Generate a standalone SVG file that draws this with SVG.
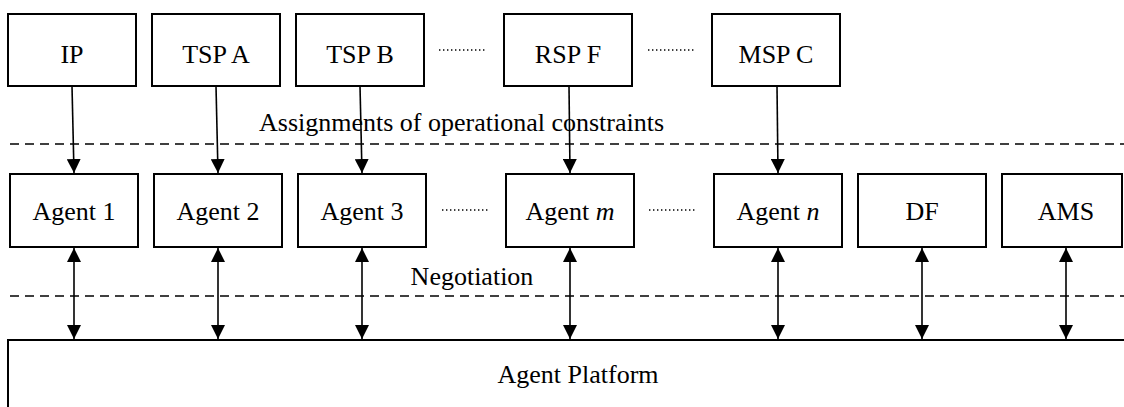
<svg xmlns="http://www.w3.org/2000/svg" width="1124" height="407" viewBox="0 0 1124 407">
<style>
.box{fill:#fff;stroke:#000;stroke-width:2}
.t{font-family:"Liberation Serif","Times New Roman",serif;font-size:26px;fill:#000;text-anchor:middle}
.tl{font-family:"Liberation Serif","Times New Roman",serif;font-size:26px;fill:#000}
.ln{stroke:#000;stroke-width:1.6;fill:none}
.dash{stroke:#000;stroke-width:1.5;stroke-dasharray:9 6;fill:none}
.dot{stroke:#000;stroke-width:1.6;stroke-dasharray:1.4 2.6;fill:none}
</style>
<defs>
<marker id="ah" viewBox="0 0 14 14" refX="14" refY="7" markerWidth="14" markerHeight="14" markerUnits="userSpaceOnUse" orient="auto-start-reverse">
<path d="M0,0 L14,7 L0,14 Z" fill="#000"/>
</marker>
</defs>
<rect width="1124" height="407" fill="#fff"/>

<g id="sep-lines">
<line class="dash" x1="10" y1="144" x2="1124" y2="144"/>
<line class="dash" x1="10" y1="296" x2="1124" y2="296"/>
<line class="dot" x1="439" y1="50" x2="486" y2="50"/>
<line class="dot" x1="648" y1="50" x2="694" y2="50"/>
<line class="dot" x1="442" y1="210" x2="488" y2="210"/>
<line class="dot" x1="649" y1="210" x2="696" y2="210"/>
</g>

<text class="tl" x="259" y="131">Assignments of operational constraints</text>
<text class="t" x="472" y="285">Negotiation</text>

<g id="ip"><rect class="box" x="8" y="14" width="128" height="72"/><text class="t" x="72" y="63">IP</text></g>
<g id="tspa"><rect class="box" x="152" y="14" width="128" height="72"/><text class="t" x="216" y="63">TSP A</text></g>
<g id="tspb"><rect class="box" x="296" y="14" width="128" height="72"/><text class="t" x="360" y="63">TSP B</text></g>
<g id="rspf"><rect class="box" x="504" y="14" width="128" height="72"/><text class="t" x="568" y="63">RSP F</text></g>
<g id="mspc"><rect class="box" x="712" y="14" width="128" height="72"/><text class="t" x="776" y="63">MSP C</text></g>

<g id="agent1"><rect class="box" x="10" y="174" width="128" height="73"/><text class="t" x="74" y="220">Agent 1</text></g>
<g id="agent2"><rect class="box" x="154" y="174" width="128" height="73"/><text class="t" x="218" y="220">Agent 2</text></g>
<g id="agent3"><rect class="box" x="298" y="174" width="128" height="73"/><text class="t" x="362" y="220">Agent 3</text></g>
<g id="agentm"><rect class="box" x="506" y="174" width="128" height="73"/><text class="t" x="570" y="220">Agent <tspan font-style="italic">m</tspan></text></g>
<g id="agentn"><rect class="box" x="714" y="174" width="128" height="73"/><text class="t" x="778" y="220">Agent <tspan font-style="italic">n</tspan></text></g>
<g id="df"><rect class="box" x="858" y="174" width="128" height="73"/><text class="t" x="922" y="220">DF</text></g>
<g id="ams"><rect class="box" x="1002" y="174" width="120" height="73"/><text class="t" x="1066" y="220">AMS</text></g>

<g id="platform"><rect class="box" x="8" y="340" width="1130" height="100"/><text class="t" x="578" y="383">Agent Platform</text></g>

<g id="connectors">
<line class="ln" x1="72" y1="86" x2="74" y2="173" marker-end="url(#ah)"/>
<line class="ln" x1="216" y1="86" x2="218" y2="173" marker-end="url(#ah)"/>
<line class="ln" x1="360" y1="86" x2="362" y2="173" marker-end="url(#ah)"/>
<line class="ln" x1="569" y1="86" x2="570" y2="173" marker-end="url(#ah)"/>
<line class="ln" x1="777" y1="86" x2="778" y2="173" marker-end="url(#ah)"/>

<line class="ln" x1="74" y1="248" x2="74" y2="339" marker-start="url(#ah)" marker-end="url(#ah)"/>
<line class="ln" x1="218" y1="248" x2="218" y2="339" marker-start="url(#ah)" marker-end="url(#ah)"/>
<line class="ln" x1="362" y1="248" x2="362" y2="339" marker-start="url(#ah)" marker-end="url(#ah)"/>
<line class="ln" x1="570" y1="248" x2="570" y2="339" marker-start="url(#ah)" marker-end="url(#ah)"/>
<line class="ln" x1="778" y1="248" x2="778" y2="339" marker-start="url(#ah)" marker-end="url(#ah)"/>
<line class="ln" x1="922" y1="248" x2="922" y2="339" marker-start="url(#ah)" marker-end="url(#ah)"/>
<line class="ln" x1="1066" y1="248" x2="1066" y2="339" marker-start="url(#ah)" marker-end="url(#ah)"/>
</g>
</svg>
